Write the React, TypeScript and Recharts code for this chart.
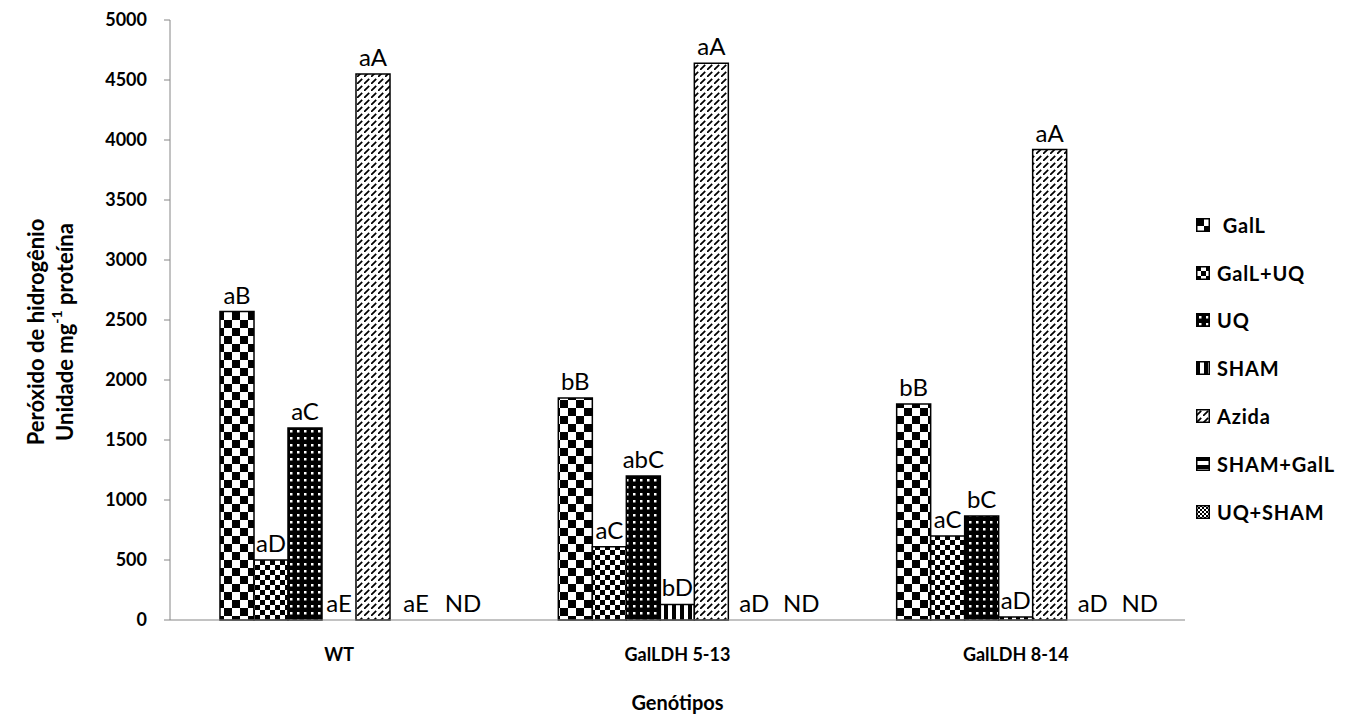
import { Bar, BarChart, LabelList, Legend, XAxis, YAxis, Label, Rectangle } from "recharts";

const categories = ["WT", "GalLDH 5-13", "GalLDH 8-14"];

const galL = [2570, 1850, 1800];
const galLUq = [500, 610, 700];
const uq = [1600, 1200, 867];
const sham = [0, 130, 25];
const azida = [4550, 4640, 3920];
const shamGalL = [0, 0, 0];
const uqSham = [0, 0, 0];

const galLLabels = ["aB", "bB", "bB"];
const galLUqLabels = ["aD", "aC", "aC"];
const uqLabels = ["aC", "abC", "bC"];
const shamLabels = ["aE", "bD", "aD"];
const azidaLabels = ["aA", "aA", "aA"];
const shamGalLLabels = ["aE", "aD", "aD"];
const uqShamLabels = ["ND", "ND", "ND"];

const yTicks = [0, 500, 1000, 1500, 2000, 2500, 3000, 3500, 4000, 4500, 5000];

const FONT = "Lato, 'Liberation Sans', sans-serif";

const series = [
  { name: " GalL", values: galL, labels: galLLabels, fill: "url(#p-chk8)", dx: 0 },
  { name: "GalL+UQ", values: galLUq, labels: galLUqLabels, fill: "url(#p-chk5)", dx: 0 },
  { name: "UQ", values: uq, labels: uqLabels, fill: "url(#p-dots)", dx: 0 },
  { name: "SHAM", values: sham, labels: shamLabels, fill: "url(#p-vstripe)", dx: 0 },
  { name: "Azida", values: azida, labels: azidaLabels, fill: "url(#p-diag)", dx: 0 },
  { name: "SHAM+GalL", values: shamGalL, labels: shamGalLLabels, fill: "url(#p-hstripe)", dx: 9 },
  { name: "UQ+SHAM", values: uqSham, labels: uqShamLabels, fill: "url(#p-fine)", dx: 22 },
];

const data = categories.map((name, i) => {
  const row: Record<string, string | number> = { name };
  series.forEach((s, k) => {
    row[`v${k}`] = s.values[i];
    row[`l${k}`] = s.labels[i];
  });
  return row;
});

function Patterns() {
  return (
    <defs>
      <pattern id="p-chk8" width="16" height="16" patternUnits="userSpaceOnUse">
        <rect width="16" height="16" fill="#fff" />
        <rect width="8" height="8" fill="#000" />
        <rect x="8" y="8" width="8" height="8" fill="#000" />
      </pattern>
      <pattern id="p-chk5" width="10" height="10" patternUnits="userSpaceOnUse">
        <rect width="10" height="10" fill="#fff" />
        <rect width="5" height="5" fill="#000" />
        <rect x="5" y="5" width="5" height="5" fill="#000" />
      </pattern>
      <pattern id="p-dots" width="7" height="7" patternUnits="userSpaceOnUse">
        <rect width="7" height="7" fill="#000" />
        <rect x="3" y="3" width="2.5" height="2.5" fill="#fff" />
      </pattern>
      <pattern id="p-vstripe" width="8" height="8" patternUnits="userSpaceOnUse">
        <rect width="8" height="8" fill="#fff" />
        <rect width="4" height="8" fill="#000" />
      </pattern>
      <pattern id="p-diag" width="7" height="7" patternUnits="userSpaceOnUse">
        <rect width="7" height="7" fill="#fff" />
        <path d="M0,7 L5.2,1.8" stroke="#000" strokeWidth="1.8" />
      </pattern>
      <pattern id="p-hstripe" width="8" height="8" patternUnits="userSpaceOnUse">
        <rect width="8" height="8" fill="#fff" />
        <rect width="8" height="4" fill="#000" />
      </pattern>
      <pattern id="p-fine" width="4" height="4" patternUnits="userSpaceOnUse">
        <rect width="4" height="4" fill="#fff" />
        <rect width="2" height="2" fill="#000" />
        <rect x="2" y="2" width="2" height="2" fill="#000" />
      </pattern>
    </defs>
  );
}

function LegendBox() {
  return (
    <div style={{ fontFamily: FONT, fontWeight: 700, fontSize: 20, letterSpacing: 0.8, color: "#000" }}>
      {series.map((s) => (
        <div key={s.name} style={{ display: "flex", alignItems: "center", height: 47.8 }}>
          <svg width={14} height={14} style={{ marginRight: 7 }}>
            <rect x={0.75} y={0.75} width={12.5} height={12.5} fill={s.fill} stroke="#000" strokeWidth={1.5} />
          </svg>
          <span style={{ whiteSpace: "pre" }}>{s.name}</span>
        </div>
      ))}
    </div>
  );
}

function YTitle({ viewBox }: any) {
  const cy = viewBox.y + viewBox.height / 2 + 12;
  return (
    <g fontFamily={FONT} fontWeight={700} fontSize={22} fill="#000">
      <text x={35} y={cy} transform={`rotate(-90 35 ${cy})`} textAnchor="middle" dominantBaseline="central">
        Peróxido de hidrogênio
      </text>
      <text x={64} y={cy} transform={`rotate(-90 64 ${cy})`} textAnchor="middle" dominantBaseline="central">
        Unidade mg
        <tspan fontSize={14} dy={-8}>-1</tspan>
        <tspan dy={8}> proteína</tspan>
      </text>
    </g>
  );
}

function BarShape(props: any) {
  if (!props.height || Math.abs(props.height) < 0.5) return <g />;
  return <Rectangle {...props} />;
}

export default function App() {
  return (
    <div style={{ position: "absolute", left: 0, top: 0, background: "#fff" }}>
      <BarChart
        width={1353}
        height={722}
        data={data}
        margin={{ top: 20, right: 168, bottom: 0, left: 0 }}
        barCategoryGap={50}
        barGap={0}
      >
        <Patterns />
        <YAxis
          width={170}
          domain={[0, 5000]}
          ticks={yTicks}
          interval={0}
          stroke="#868686"
          tickSize={6}
          tick={{ fill: "#000", fontFamily: FONT, fontWeight: 700, fontSize: 18 }}
          tickMargin={17}
        >
          <Label content={YTitle} />
        </YAxis>
        <XAxis
          dataKey="name"
          height={102}
          stroke="#868686"
          tickLine={false}
          tick={{ fill: "#000", fontFamily: FONT, fontWeight: 700, fontSize: 18 }}
          tickMargin={22}
        >
          <Label
            value="Genótipos"
            position="insideBottom"
            offset={12}
            style={{ fill: "#000", fontFamily: FONT, fontWeight: 700, fontSize: 20 }}
          />
        </XAxis>
        <Legend
          layout="vertical"
          align="center"
          verticalAlign="middle"
          content={<LegendBox />}
          wrapperStyle={{ left: 1196, top: 201, width: 160 }}
        />
        {series.map((s, k) => (
          <Bar
            key={s.name}
            dataKey={`v${k}`}
            name={s.name}
            fill={s.fill}
            stroke="#000"
            strokeWidth={1.5}
            minPointSize={0.01}
            shape={BarShape}
            isAnimationActive={false}
          >
            <LabelList
              dataKey={`l${k}`}
              position="top"
              offset={8}
              dx={s.dx}
              style={{ fill: "#000", fontFamily: FONT, fontSize: 24 }}
            />
          </Bar>
        ))}
      </BarChart>
    </div>
  );
}
